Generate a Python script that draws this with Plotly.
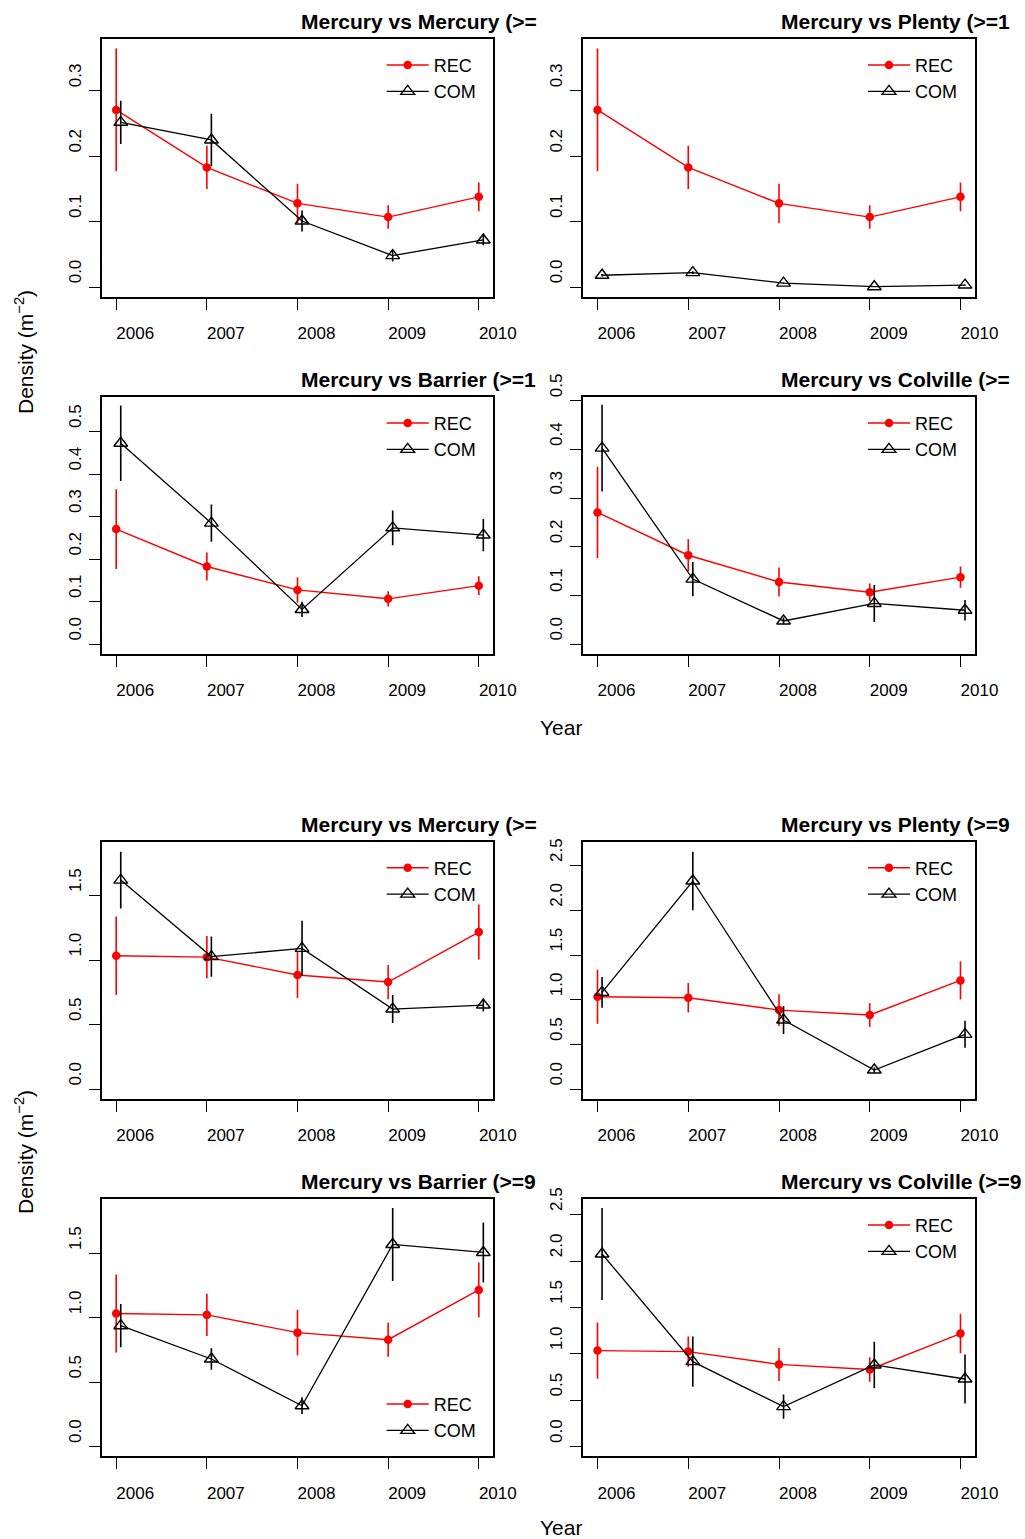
import plotly.graph_objects as go

# ---------------- data ----------------
years = [2006, 2007, 2008, 2009, 2010]
year_labels = ["2006", "2007", "2008", "2009", "2010"]

# Larger size class (top block)
rec_large_mean = [0.271, 0.183, 0.128, 0.107, 0.138]
rec_large_se = [0.094, 0.033, 0.030, 0.018, 0.022]
com_mercury_large_mean = [0.252, 0.225, 0.101, 0.048, 0.072]
com_mercury_large_se = [0.033, 0.040, 0.016, 0.009, 0.008]
com_plenty_large_mean = [0.018, 0.022, 0.006, 0.0005, 0.003]
com_plenty_large_se = [0.002, 0.002, 0.001, 0.0005, 0.001]
com_barrier_large_mean = [0.473, 0.285, 0.082, 0.274, 0.257]
com_barrier_large_se = [0.089, 0.044, 0.018, 0.041, 0.038]
com_colville_large_mean = [0.403, 0.134, 0.048, 0.084, 0.070]
com_colville_large_se = [0.089, 0.035, 0.007, 0.038, 0.021]

# Smaller size class (bottom block)
rec_small_mean = [1.035, 1.024, 0.886, 0.831, 1.218]
rec_small_se = [0.303, 0.164, 0.178, 0.133, 0.213]
com_mercury_small_mean = [1.621, 1.028, 1.092, 0.622, 0.653]
com_mercury_small_se = [0.220, 0.155, 0.213, 0.108, 0.050]
com_plenty_small_mean = [1.084, 2.329, 0.775, 0.216, 0.615]
com_plenty_small_se = [0.173, 0.326, 0.157, 0.030, 0.151]
com_barrier_small_mean = [0.940, 0.681, 0.318, 1.571, 1.509]
com_barrier_small_se = [0.168, 0.084, 0.065, 0.283, 0.233]
com_colville_small_mean = [2.076, 0.916, 0.431, 0.880, 0.729]
com_colville_small_se = [0.496, 0.271, 0.131, 0.250, 0.264]

titles = [
    "Mercury vs Mercury (>=", "Mercury vs Plenty (>=1",
    "Mercury vs Barrier (>=1", "Mercury vs Colville (>=",
    "Mercury vs Mercury (>=", "Mercury vs Plenty (>=9",
    "Mercury vs Barrier (>=9", "Mercury vs Colville (>=9",
]
series_names = ["REC", "COM"]

panels_rec = [
    (rec_large_mean, rec_large_se)] * 4 + [(rec_small_mean, rec_small_se)] * 4
panels_com = [
    (com_mercury_large_mean, com_mercury_large_se),
    (com_plenty_large_mean, com_plenty_large_se),
    (com_barrier_large_mean, com_barrier_large_se),
    (com_colville_large_mean, com_colville_large_se),
    (com_mercury_small_mean, com_mercury_small_se),
    (com_plenty_small_mean, com_plenty_small_se),
    (com_barrier_small_mean, com_barrier_small_se),
    (com_colville_small_mean, com_colville_small_se),
]
ytick_sets = [
    [0.0, 0.1, 0.2, 0.3], [0.0, 0.1, 0.2, 0.3],
    [0.0, 0.1, 0.2, 0.3, 0.4, 0.5], [0.0, 0.1, 0.2, 0.3, 0.4, 0.5],
    [0.0, 0.5, 1.0, 1.5], [0.0, 0.5, 1.0, 1.5, 2.0, 2.5],
    [0.0, 0.5, 1.0, 1.5], [0.0, 0.5, 1.0, 1.5, 2.0, 2.5],
]

# ---------------- layout geometry (pixels) ----------------
W, H = 1025, 1539
FONT = "Liberation Sans, Arial, sans-serif"
col_x = [(101.7, 493.3), (583.0, 975.0)]
row_y = [(39.3, 296.7), (397.3, 654.0), (842.0, 1099.0), (1199.3, 1456.3)]
yranges = [
    [-0.0148, 0.379], [-0.0148, 0.379],
    [-0.0228, 0.581], [-0.0199, 0.5075],
    [-0.075, 1.916], [-0.108, 2.765],
    [-0.075, 1.922], [-0.104, 2.665],
]
xrange_ = [2005.84, 2010.16]
com_dodge = 0.05
legend_at_bottom = [False, False, False, False, False, False, True, False]


def px(x):
    return x / W


def py(y):
    return 1 - y / H


fig = go.Figure()
annotations = []
layout_upd = {}

for i in range(8):
    r, c = divmod(i, 2)
    x0, x1 = col_x[c]
    y0, y1 = row_y[r]
    n = i + 1
    xa = "x" if n == 1 else f"x{n}"
    ya = "y" if n == 1 else f"y{n}"
    lg = "legend" if n == 1 else f"legend{n}"
    rec_m, rec_s = panels_rec[i]
    com_m, com_s = panels_com[i]

    fig.add_trace(go.Scatter(
        x=years, y=rec_m, xaxis=xa, yaxis=ya, name=series_names[0], legend=lg,
        mode="lines+markers",
        line=dict(color="#ff0000", width=1.4),
        marker=dict(color="#ff0000", size=8.5, symbol="circle"),
        error_y=dict(type="data", array=rec_s, visible=True, width=0,
                     thickness=1.6, color="#ff0000"),
    ))
    fig.add_trace(go.Scatter(
        x=[yv + com_dodge for yv in years], y=com_m, xaxis=xa, yaxis=ya,
        name=series_names[1], legend=lg,
        mode="lines+markers",
        line=dict(color="#000000", width=1.3),
        marker=dict(color="#000000", size=12, symbol="triangle-up-open",
                    line=dict(width=1.4, color="#000000")),
        error_y=dict(type="data", array=com_s, visible=True, width=0,
                     thickness=1.6, color="#000000"),
    ))

    axcommon = dict(showgrid=False, zeroline=False, showline=True, mirror=True,
                    linecolor="black", linewidth=1.6, ticks="outside",
                    ticklen=11, tickwidth=1.3, tickcolor="black",
                    automargin=False,
                    tickfont=dict(family=FONT, size=17, color="black"))
    xkey = "xaxis" if n == 1 else f"xaxis{n}"
    ykey = "yaxis" if n == 1 else f"yaxis{n}"
    layout_upd[xkey] = dict(
        axcommon, domain=[px(x0), px(x1)], range=xrange_, anchor=ya,
        tickmode="array", tickvals=years, ticktext=year_labels,
        ticklabelshift=19, ticklabelstandoff=9)
    layout_upd[ykey] = dict(
        axcommon, domain=[py(y1), py(y0)], range=yranges[i], anchor=xa,
        tickmode="array", tickvals=ytick_sets[i], tickformat=".1f",
        tickangle=-90, ticklabelshift=-13, ticklabelstandoff=1)

    if legend_at_bottom[i]:
        leg_mid = y1 - 39
    else:
        leg_mid = y0 + 39
    layout_upd[lg] = dict(
        x=px(x0 + 280), y=py(leg_mid), xanchor="left", yanchor="middle",
        bgcolor="rgba(0,0,0,0)", borderwidth=0, itemwidth=42,
        font=dict(family=FONT, size=18, color="black"),
        tracegroupgap=0)

    annotations.append(dict(
        text="<b>" + titles[i] + "</b>", xref="paper", yref="paper",
        x=px(299 if c == 0 else 779), y=py(y0 - 17.5),
        xanchor="left", yanchor="middle", showarrow=False,
        font=dict(family=FONT, size=21, color="black")))

# shared axis titles
for yc in (352, 1152):
    annotations.append(dict(
        text="Density (m<sup>−2</sup>)", xref="paper", yref="paper",
        x=px(24), y=py(yc), xanchor="center", yanchor="middle",
        textangle=-90, showarrow=False,
        font=dict(family=FONT, size=21, color="black")))
for yc in (727, 1527):
    annotations.append(dict(
        text="Year", xref="paper", yref="paper",
        x=px(561), y=py(yc), xanchor="center", yanchor="middle",
        showarrow=False, font=dict(family=FONT, size=21, color="black")))

fig.update_layout(
    width=W, height=H,
    margin=dict(l=0, r=0, t=0, b=0, pad=0, autoexpand=False),
    paper_bgcolor="white", plot_bgcolor="white",
    showlegend=True, annotations=annotations, **layout_upd)

fig.write_html(
    "out.html",
    config={"displayModeBar": False},
    post_script="document.body.style.margin='0';"
                "document.documentElement.style.overflow='hidden';")
